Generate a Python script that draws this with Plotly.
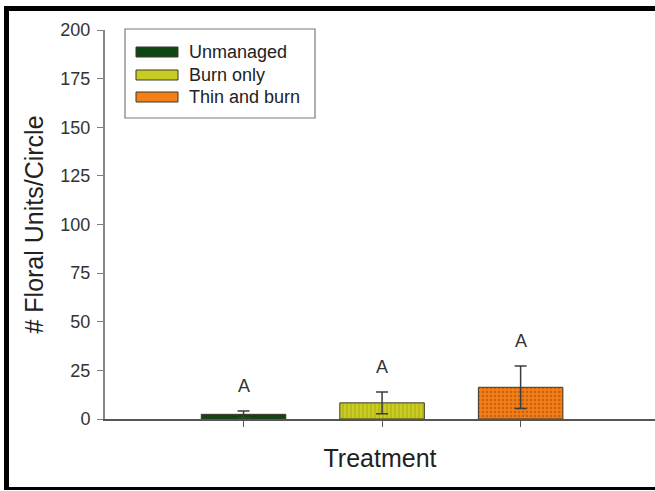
import plotly.graph_objects as go

# Mean floral units per sampling circle, by treatment
treatments = ["Unmanaged", "Burn only", "Thin and burn"]
means = [2.4, 8.3, 16.3]
errors = [1.7, 5.6, 10.9]
letters = ["A", "A", "A"]

# Fill styles per treatment
bar_colors = ["#0f4712", "#c9cc22", "#f47f17"]
pattern_shapes = ["", "|", "."]
pattern_fg = ["#0f4712", "#a3a316", "#c96210"]
pattern_sizes = [6, 4, 4]
pattern_solid = [0.2, 0.2, 0.35]

FONT = "Arial, Liberation Sans, sans-serif"

fig = go.Figure()

for t, m, e, col, shp, fg, sz, so in zip(treatments, means, errors, bar_colors,
                                          pattern_shapes, pattern_fg,
                                          pattern_sizes, pattern_solid):
    fig.add_trace(go.Bar(
        x=[t], y=[m], name=t,
        width=0.61,
        marker=dict(
            color=col,
            line=dict(color="#3a3a2a", width=1),
            pattern=dict(shape=shp, bgcolor=col, fgcolor=fg,
                         size=sz, solidity=so, fillmode="replace"),
        ),
        error_y=dict(type="data", array=[e], visible=True,
                     color="#3c3c3c", thickness=1.5, width=6),
        showlegend=False,
    ))

# Significance letters above the error bars
for t, m, e, lab in zip(treatments, means, errors, letters):
    fig.add_annotation(x=t, y=m + e, text=lab, showarrow=False,
                       yanchor="middle", yshift=25,
                       font=dict(family=FONT, size=18, color="#333333"))

# Legend drawn as a framed box with wide swatches
L, R, T, B = 105, 655, 30, 419
def px(x):
    return (x - L) / (R - L)
def py(y):
    return (B - y) / (B - T)

fig.add_shape(type="rect", xref="paper", yref="paper",
              x0=px(125), x1=px(315), y0=py(118), y1=py(29),
              line=dict(color="#7a7a7a", width=1.2), fillcolor="white")
legend_rows = [52, 75, 97]
for name, col, yc in zip(treatments, bar_colors, legend_rows):
    fig.add_shape(type="rect", xref="paper", yref="paper",
                  x0=px(136), x1=px(178), y0=py(yc + 5), y1=py(yc - 5),
                  line=dict(color="#3a3a2a", width=1), fillcolor=col)
    fig.add_annotation(xref="paper", yref="paper", x=px(187), y=py(yc),
                       text=name, showarrow=False, xanchor="left",
                       yanchor="middle",
                       font=dict(family=FONT, size=18, color="#222222"))

# Heavy frame along the top, left and bottom edges
frame = [
    (4, 700, 6, 11),
    (4, 9, 6, 490),
    (4, 700, 487, 490),
]
for x0, x1, y0, y1 in frame:
    fig.add_shape(type="rect", xref="paper", yref="paper",
                  x0=px(x0), x1=px(x1), y0=py(y1), y1=py(y0),
                  line=dict(width=0), fillcolor="#000000", layer="above")

fig.update_layout(
    width=655, height=491,
    margin=dict(l=L, r=655 - R, t=T, b=491 - B),
    plot_bgcolor="white", paper_bgcolor="white",
    font=dict(family=FONT, color="#333333"),
    barmode="overlay",
)

fig.update_xaxes(
    type="category",
    categoryorder="array", categoryarray=treatments,
    range=[-1, 2.97],
    showticklabels=False,
    ticks="outside", ticklen=6, tickwidth=1.2, tickcolor="#555555",
    showline=True, linecolor="#555555", linewidth=2,
    showgrid=False, zeroline=False,
    title=dict(text="Treatment", standoff=23,
               font=dict(family=FONT, size=25, color="#222222")),
)

fig.update_yaxes(
    range=[0, 200],
    tickvals=[0, 25, 50, 75, 100, 125, 150, 175, 200],
    ticks="outside", ticklen=6, tickwidth=1.2, tickcolor="#7f7f7f",
    ticklabelstandoff=3,
    tickfont=dict(family=FONT, size=18, color="#333333"),
    showline=True, linecolor="#888888", linewidth=2,
    showgrid=False, zeroline=False,
    title=dict(text="# Floral Units/Circle", standoff=10,
               font=dict(family=FONT, size=25, color="#222222")),
)

fig.write_html("out.html")
